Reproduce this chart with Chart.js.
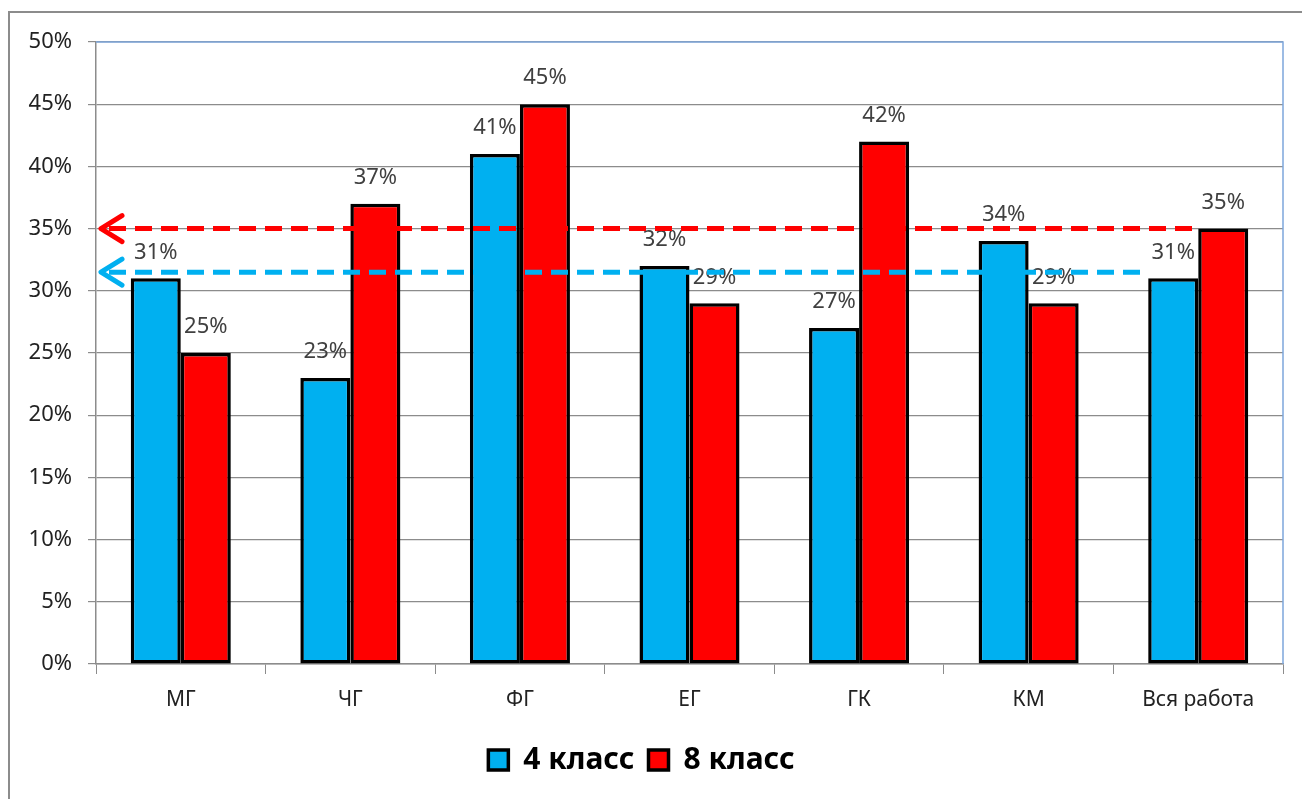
<!DOCTYPE html>
<html>
<head>
<meta charset="utf-8">
<script src="https://cdn.jsdelivr.net/npm/chart.js@4"></script>
<style>
  html, body { margin: 0; padding: 0; background: #fff; }
  #wrap { width: 1302px; height: 799px; }
</style>
</head>
<body>
<div id="wrap"><canvas id="myBarChart" width="1302" height="799"></canvas></div>
<script>
// категории и значения
var categories = ['МГ', 'ЧГ', 'ФГ', 'ЕГ', 'ГК', 'КМ', 'Вся работа'];
var class4 = [31, 23, 41, 32, 27, 34, 31];
var class8 = [25, 37, 45, 29, 42, 29, 35];
// средние линии (пунктир со стрелкой)
var avgLines = [
  { value: 35, color: '#FF0000', dataset: 1 },
  { value: 31.5, color: '#00B0F0', dataset: 0 }
];
var yTicks = [0, 5, 10, 15, 20, 25, 30, 35, 40, 45, 50];

var FONT = '"Noto Sans", "Open Sans", sans-serif';

// подписи над столбцами (под столбцами по z, как в оригинале)
var valueLabels = {
  id: 'valueLabels',
  beforeDatasetsDraw: function(chart) {
    var ctx = chart.ctx;
    ctx.save();
    ctx.font = '22px ' + FONT;
    ctx.fillStyle = '#404040';
    ctx.textAlign = 'center';
    ctx.textBaseline = 'middle';
    chart.data.datasets.forEach(function(ds, i) {
      chart.getDatasetMeta(i).data.forEach(function(bar, j) {
        ctx.fillText(ds.data[j] + '%', bar.x, bar.y - 26);
      });
    });
    ctx.restore();
  }
};

// рамки и пунктирные линии
var decorations = {
  id: 'decorations',
  beforeDraw: function(chart) {
    var ctx = chart.ctx;
    ctx.save();
    ctx.fillStyle = '#fff';
    ctx.fillRect(0, 0, chart.width, chart.height);
    ctx.strokeStyle = '#8c8c8c';
    ctx.lineWidth = 2;
    ctx.strokeRect(9, 12, chart.width + 20, chart.height + 20);
    ctx.restore();
  },
  afterDatasetsDraw: function(chart) {
    var ctx = chart.ctx;
    var a = chart.chartArea;
    var y = chart.scales.y;
    ctx.save();
    // верх и право области построения
    ctx.strokeStyle = '#7EA6DC';
    ctx.lineWidth = 1.5;
    ctx.beginPath();
    ctx.moveTo(a.left, a.top);
    ctx.lineTo(a.right, a.top);
    ctx.lineTo(a.right, a.bottom);
    ctx.stroke();

    var last = categories.length - 1;
    avgLines.forEach(function(l) {
      var py = y.getPixelForValue(l.value);
      var bar = chart.getDatasetMeta(l.dataset).data[last];
      var xEnd = bar.x - bar.width / 2;
      var xStart = a.left + 5;
      ctx.strokeStyle = l.color;
      ctx.lineWidth = 5;
      ctx.setLineDash([17, 9]);
      ctx.beginPath();
      ctx.moveTo(xStart + 8, py);
      ctx.lineTo(xEnd, py);
      ctx.stroke();
      // стрелка
      ctx.setLineDash([]);
      ctx.lineCap = 'round';
      ctx.lineJoin = 'round';
      ctx.lineWidth = 5;
      ctx.beginPath();
      ctx.moveTo(xStart + 21, py - 13);
      ctx.lineTo(xStart, py);
      ctx.lineTo(xStart + 21, py + 13);
      ctx.stroke();
      ctx.lineCap = 'butt';
    });
    ctx.restore();
  }
};

var ctx = document.getElementById('myBarChart').getContext('2d');
var myBarChart = new Chart(ctx, {
  type: 'bar',
  data: {
    labels: categories,
    datasets: [{
      label: '4 класс',
      data: class4,
      backgroundColor: '#00B0F0',
      borderColor: '#000',
      borderWidth: 3.5,
      borderSkipped: false
    }, {
      label: '8 класс',
      data: class8,
      backgroundColor: '#FF0000',
      borderColor: '#000',
      borderWidth: 3.5,
      borderSkipped: false
    }]
  },
  options: {
    responsive: false,
    animation: false,
    devicePixelRatio: 1,
    categoryPercentage: 0.59,
    barPercentage: 1,
    layout: { padding: { top: 42, right: 19, left: 0, bottom: 14 } },
    plugins: {
      tooltip: { enabled: false },
      legend: {
        position: 'bottom',
        labels: {
          boxWidth: 20,
          boxHeight: 20,
          padding: 14,
          color: '#000',
          font: { family: FONT, size: 30, weight: 'bold' }
        }
      }
    },
    scales: {
      x: {
        grid: { drawOnChartArea: false, offset: true, tickLength: 10, color: '#8c8c8c' },
        border: { color: '#8c8c8c', width: 1.5 },
        ticks: { color: '#222', padding: 13, font: { family: FONT, size: 21 } },
        afterFit: function(s) { s.height = 67; }
      },
      y: {
        min: 0,
        max: 50,
        afterBuildTicks: function(s) { s.ticks = yTicks.map(function(v) { return { value: v }; }); },
        grid: { color: '#8c8c8c', tickLength: 8, lineWidth: 1.2 },
        border: { color: '#8c8c8c', width: 1.5 },
        ticks: {
          color: '#222',
          padding: 16,
          font: { family: FONT, size: 22 },
          callback: function(v) { return v + '%'; }
        },
        afterFit: function(s) { s.width = 96; }
      }
    }
  },
  plugins: [decorations, valueLabels]
});
</script>
</body>
</html>
